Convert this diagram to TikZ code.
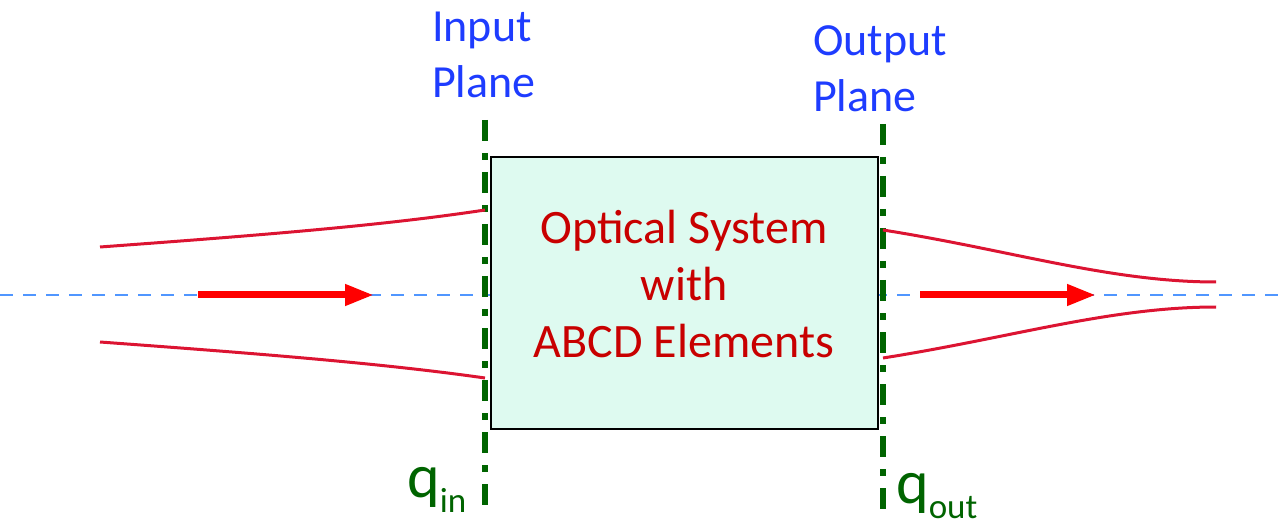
\documentclass[tikz,border=0pt]{standalone}
\usepackage{fontspec}
\setmainfont{Carlito}
\usetikzlibrary{arrows.meta}
\definecolor{beamred}{RGB}{220,20,50}
\definecolor{arrred}{RGB}{255,0,0}
\definecolor{axisblue}{RGB}{80,150,255}
\definecolor{planegreen}{RGB}{0,100,0}
\definecolor{labelblue}{RGB}{30,60,255}
\definecolor{sysred}{RGB}{200,0,0}
\definecolor{boxfill}{RGB}{222,250,240}
\tikzset{
  planeline/.style={draw=planegreen, line width=6pt, dash pattern=on 21pt off 12pt on 7pt off 12pt},
  beam/.style={draw=beamred, line width=3pt},
  prop/.style={draw=arrred, line width=7pt, -{Triangle[length=29pt,width=20pt]}},
  axisline/.style={draw=axisblue, line width=1.5pt, dash pattern=on 13pt off 10pt},
  planelabel/.style={text=labelblue, font=\fontsize{46}{56}\selectfont, align=left, inner sep=0pt, anchor=north west},
  qlabel/.style={text=planegreen, font=\fontsize{62}{62}\selectfont, inner sep=0pt, anchor=base west},
  sysbox/.style={draw=black, line width=1.5pt, fill=boxfill, minimum width=387pt, minimum height=272pt, inner sep=0pt},
  systext/.style={text=sysred, font=\fontsize{48}{57}\selectfont, align=center, inner sep=0pt}
}
\newcommand{\qsub}[1]{\raisebox{-15pt}{\fontsize{35}{35}\selectfont #1}}
\begin{document}
\begin{tikzpicture}[x=1pt,y=-1pt]
\useasboundingbox (0,0) rectangle (1281,526);
% axis
\coordinate (axL) at (0,295);
\coordinate (axR) at (1281,295);
\draw[axisline] (axL) -- (axR);
% system box
\node[sysbox] (sys) at (684.5,293) {};
\node[systext] (systxt) at (684,284) {Optical System\\with\\ABCD Elements};
% planes
\coordinate (inT) at (485,120);
\coordinate (inB) at (485,512);
\coordinate (outT) at (883,124);
\coordinate (outB) at (883,514);
\draw[planeline] (inT) -- (inB);
\draw[planeline] (outT) -- (outB);
% plane labels
\node[planelabel] (inlab) at (432,12) {Input\\Plane};
\node[planelabel] (outlab) at (813,25) {Output\\Plane};
\node[qlabel] (qin) at (407,497) {q\qsub{in}};
\node[qlabel] (qout) at (896,503) {q\qsub{out}};
% beams
\coordinate (b1s) at (100,247);
\coordinate (b1e) at (485,210);
\coordinate (b2s) at (100,342);
\coordinate (b2e) at (485,378);
\coordinate (b3s) at (883,230);
\coordinate (b3e) at (1216,282);
\coordinate (b4s) at (883,358);
\coordinate (b4e) at (1216,307);
\draw[beam] (b1s) .. controls (250,236) and (380,226) .. (b1e);
\draw[beam] (b2s) .. controls (250,353) and (380,363) .. (b2e);
\draw[beam] (b3s) .. controls (1010,250) and (1110,282) .. (b3e);
\draw[beam] (b4s) .. controls (1010,338) and (1110,307) .. (b4e);
% propagation arrows
\coordinate (a1s) at (198,295);
\coordinate (a1e) at (374,295);
\coordinate (a2s) at (920,295);
\coordinate (a2e) at (1096,295);
\draw[prop] (a1s) -- (a1e);
\draw[prop] (a2s) -- (a2e);
\end{tikzpicture}
\end{document}
